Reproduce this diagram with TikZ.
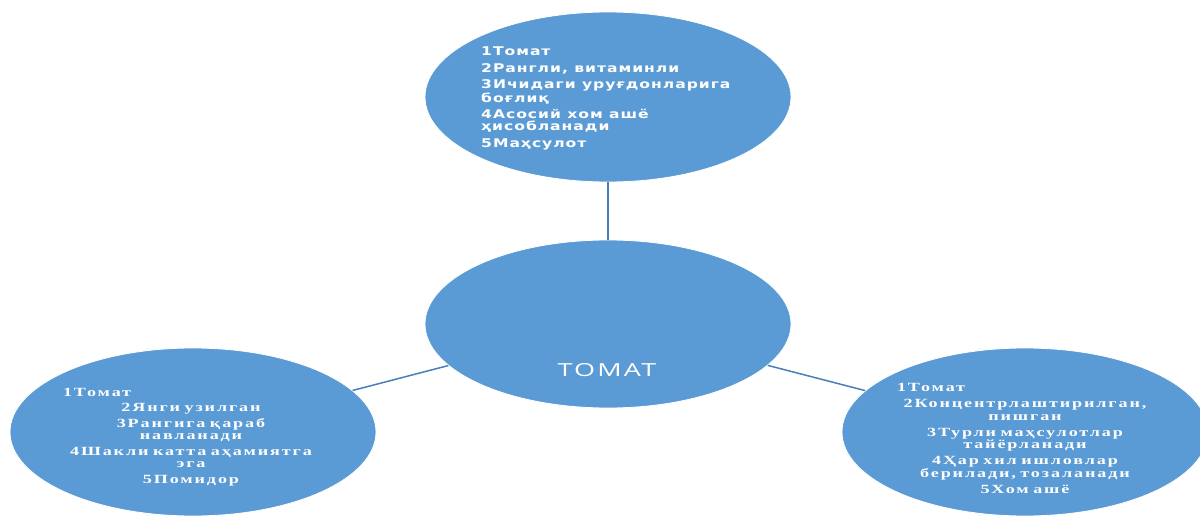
\documentclass[tikz,border=0pt]{standalone}
\usepackage{fontspec}
\usetikzlibrary{shapes.geometric}
\newfontfamily\topfont{DejaVu Sans}[LetterSpace=8,FakeStretch=1.3]
\newfontfamily\sidefont{Liberation Serif}[LetterSpace=15,FakeStretch=1.45]
\newfontfamily\midfont{Open Sans}[LetterSpace=12,FakeStretch=1.5]
\newcommand\wsp{\hspace{4.5pt}}
\definecolor{ellfill}{HTML}{5B9BD5}
\definecolor{linkc}{HTML}{4A7EBB}
\tikzset{
  bubble/.style={ellipse, fill=ellfill, draw=white, line width=0.8pt,
    minimum width=366pt, minimum height=168pt, inner sep=0pt},
  link/.style={draw=linkc, line width=1.5pt},
  toptext/.style={text=white, inner sep=0pt, align=left,
    font=\topfont\bfseries\fontsize{12}{12}\selectfont},
  sidetext/.style={text=white, inner sep=0pt, align=center, text width=256pt,
    font=\sidefont\bfseries\fontsize{12.5}{12.5}\selectfont},
  midtext/.style={text=white, inner sep=0pt,
    font=\midfont\fontsize{18}{22}\selectfont}
}
\begin{document}
\begin{tikzpicture}[x=1pt,y=-1pt]
\useasboundingbox (0,0) rectangle (1200,516);
\clip (0,0) rectangle (1200,516);
\fill[white] (0,0) rectangle (1200,516);
\node[bubble, minimum height=170pt] (top) at (608,97) {};
\node[bubble] (mid) at (608,324) {};
\node[bubble] (left) at (193,432) {};
\node[bubble] (right) at (1025,432) {};
\draw[link] (top) -- (mid);
\draw[link] (mid) -- (left);
\draw[link] (mid) -- (right);
\node[toptext, anchor=north west] (toplabel) at (481,47) {1Томат\\[4.5pt]2Рангли, витаминли\\[4.5pt]3Ичидаги уруғдонларига\\боғлиқ\\[4.5pt]4Асосий хом ашё\\ҳисобланади\\[4.5pt]5Маҳсулот};
\node[midtext, anchor=base] (midlabel) at (607,376) {ТОМАТ};
\node[sidetext, anchor=north] (leftlabel) at (191,388) {1Томат\hfill\null\\[3pt]2Янги\wsp узилган\\[3pt]3Рангига\wsp қараб\\навланади\\[3pt]4Шакли\wsp катта\wsp аҳамиятга\\эга\\[3pt]5Помидор};
\node[sidetext, anchor=north] (rightlabel) at (1025,383.5) {1Томат\hfill\null\\[3.5pt]2Концентрлаштирилган,\\пишган\\[3.5pt]3Турли\wsp маҳсулотлар\\тайёрланади\\[3.5pt]4Ҳар\wsp хил\wsp ишловлар\\берилади,\wsp тозаланади\\[3.5pt]5Хом\wsp ашё};
\end{tikzpicture}
\end{document}
